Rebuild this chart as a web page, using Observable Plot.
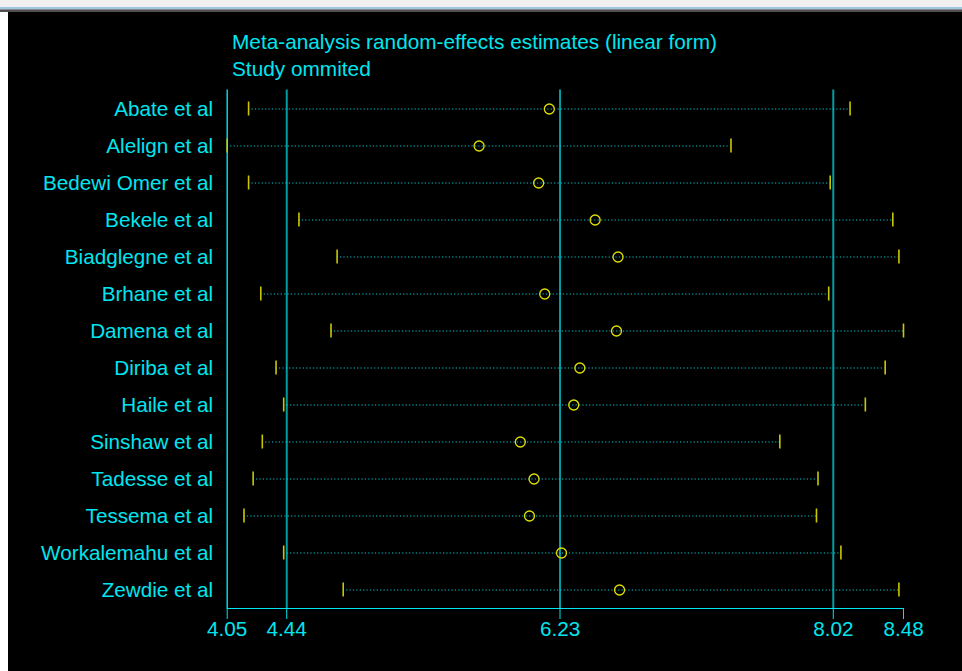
<!DOCTYPE html>
<html>
<head>
<meta charset="utf-8">
<script src="https://cdn.jsdelivr.net/npm/d3@7"></script>
<script src="https://cdn.jsdelivr.net/npm/@observablehq/plot@0.6"></script>
<style>
  html, body { margin: 0; padding: 0; background: #ffffff; width: 962px; height: 671px; overflow: hidden; }
  #topbar { position: absolute; left: 0; top: 0; width: 962px; height: 12px;
    background: linear-gradient(to bottom, #f0f0f0 0px, #f0f0f0 7px, #9cc8e4 7px, #9cc8e4 9px, #8a8a8a 9px, #8a8a8a 10px, #505050 10px, #505050 12px); }
  #panel { position: absolute; left: 8px; top: 12px; width: 954px; height: 659px; background: #000; }
  #title { position: absolute; left: 224px; top: 16px; font-family: "Liberation Sans", Arial, sans-serif;
    font-size: 20.8px; line-height: 27px; color: #00e6f0; white-space: nowrap; }
  #chart { position: absolute; left: 0; top: 0; }
</style>
</head>
<body>
<div id="topbar"></div>
<div id="panel">
  <div id="chart"></div>
  <div id="title">Meta-analysis random-effects estimates (linear form)<br>Study ommited</div>
</div>
<script>
const studies = ["Abate et al", "Alelign et al", "Bedewi Omer et al", "Bekele et al", "Biadglegne et al",
  "Brhane et al", "Damena et al", "Diriba et al", "Haile et al", "Sinshaw et al", "Tadesse et al",
  "Tessema et al", "Workalemahu et al", "Zewdie et al"];
const estimate = [6.16, 5.70, 6.09, 6.46, 6.61, 6.13, 6.60, 6.36, 6.32, 5.97, 6.06, 6.03, 6.24, 6.62];
const lower    = [4.19, 4.05, 4.19, 4.52, 4.77, 4.27, 4.73, 4.37, 4.42, 4.28, 4.22, 4.16, 4.42, 4.81];
const upper    = [8.13, 7.35, 8.00, 8.41, 8.45, 7.99, 8.48, 8.36, 8.23, 7.67, 7.92, 7.91, 8.07, 8.45];
const xTicks = [4.05, 4.44, 6.23, 8.02, 8.48];
const refLines = [4.44, 6.23, 8.02];

const rows = studies.map((s, i) => ({study: s, est: estimate[i], lo: lower[i], hi: upper[i]}));

const cyan = "#00e6f0";
const plot = Plot.plot({
  width: 954,
  height: 659,
  marginLeft: 218.7,
  marginRight: 59,
  marginTop: 77.5,
  marginBottom: 63,
  style: {background: "#000", color: cyan, fontFamily: "'Liberation Sans', Arial, sans-serif", fontSize: "20.7px"},
  x: {domain: [4.05, 8.48], ticks: xTicks, tickFormat: d => d.toFixed(2), tickSize: 11, tickPadding: 2, line: true, label: null},
  y: {type: "band", domain: studies, padding: 0, tickSize: 0, tickPadding: 14, label: null},
  marks: [
    Plot.ruleX(refLines, {stroke: "#009ca2", strokeWidth: 2}),
    Plot.ruleX([4.05], {stroke: "#00d4dc", strokeWidth: 1.5}),
    Plot.ruleY(rows, {y: "study", x1: "lo", x2: "hi", stroke: "#00c8d0", strokeWidth: 1, strokeDasharray: "1.2,2.2"}),
    Plot.tickX(rows, {x: "lo", y: "study", stroke: "#c8c800", strokeWidth: 1.6, insetTop: 11.5, insetBottom: 11.5}),
    Plot.tickX(rows, {x: "hi", y: "study", stroke: "#c8c800", strokeWidth: 1.6, insetTop: 11.5, insetBottom: 11.5}),
    Plot.dot(rows, {x: "est", y: "study", r: 5, stroke: "#e0e000", strokeWidth: 1.3, fill: "none"})
  ]
});
document.getElementById("chart").appendChild(plot);
</script>
</body>
</html>
